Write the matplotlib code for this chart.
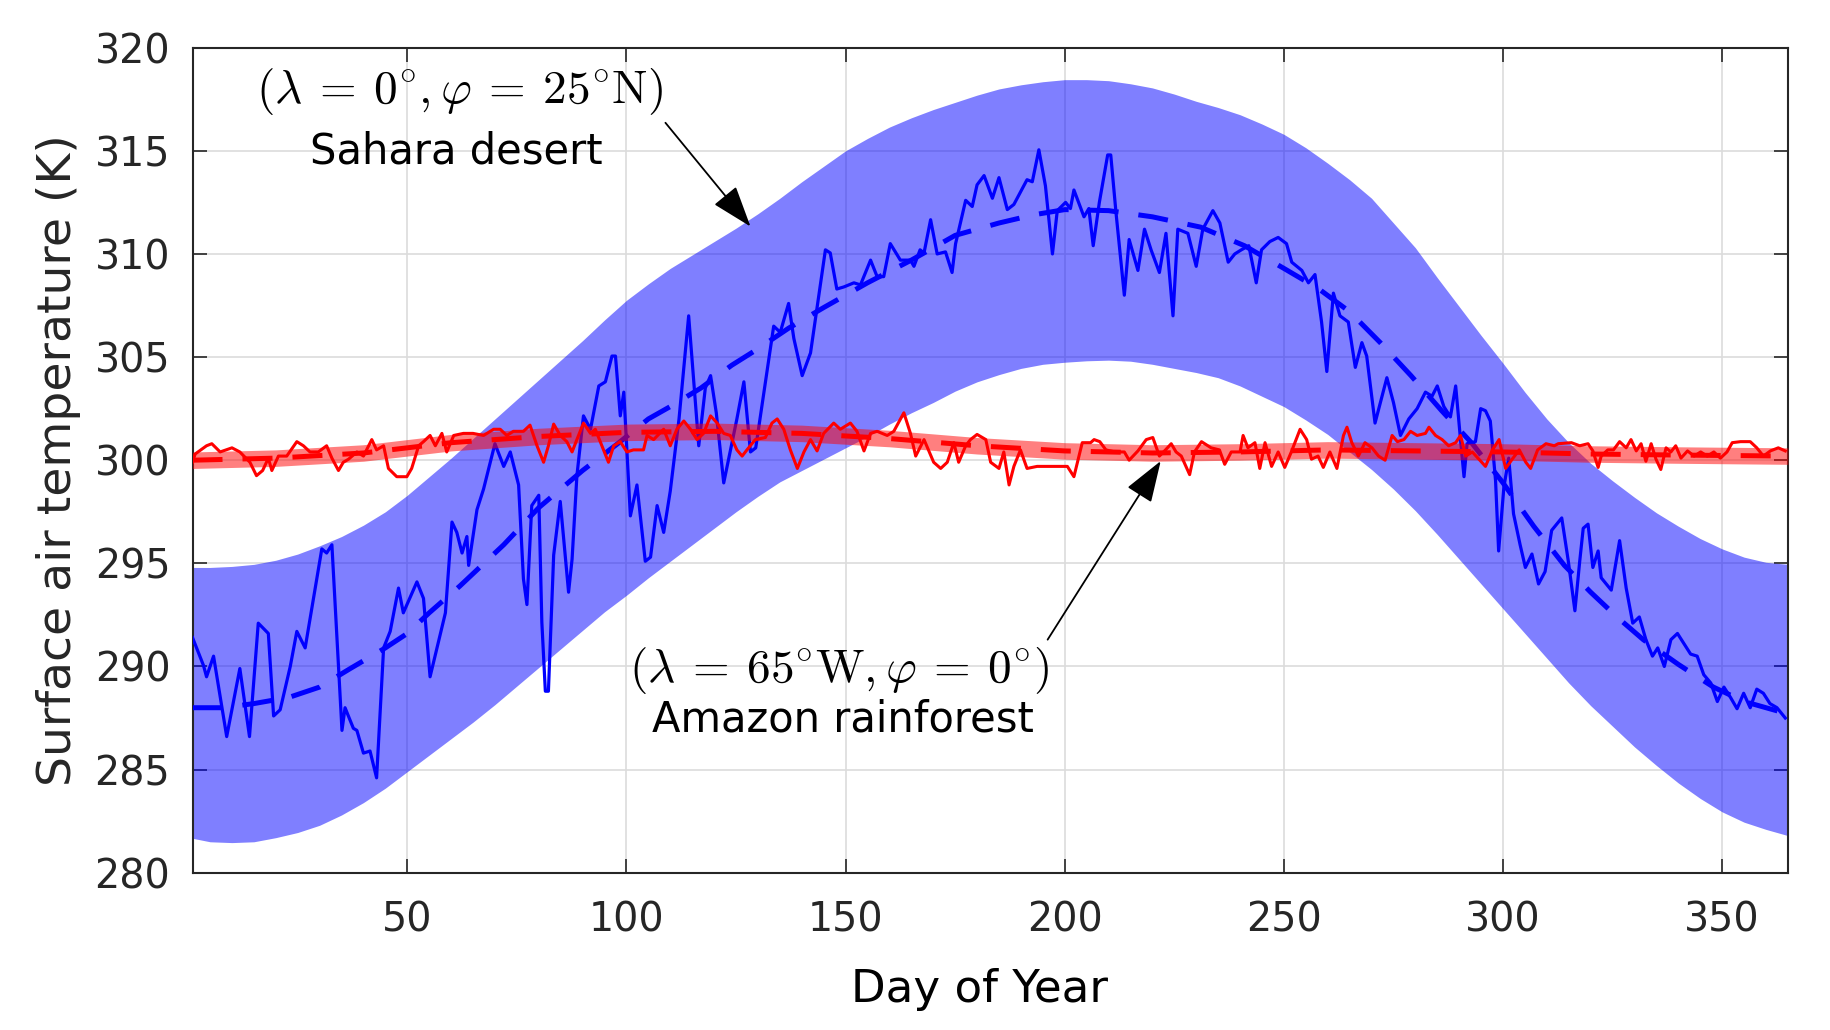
import matplotlib
matplotlib.use("Agg")
import matplotlib.pyplot as plt

# Sahara desert band (min / max envelope), read every 5 days
band_day = [1, 5, 10, 15, 20, 25, 30, 35, 40, 45, 50, 55, 60, 65, 70, 75, 80, 85, 90, 95, 100,
            105, 110, 115, 120, 125, 130, 135, 140, 145, 150, 155, 160, 165, 170, 175, 180, 185,
            190, 195, 200, 205, 210, 215, 220, 225, 230, 235, 240, 245, 250, 255, 260, 265, 270,
            275, 280, 285, 290, 295, 300, 305, 310, 315, 320, 325, 330, 335, 340, 345, 350, 355,
            360, 365]
sahara_upper = [294.8, 294.8, 294.85, 294.95, 295.15, 295.45, 295.85, 296.3, 296.85, 297.5, 298.3,
                299.2, 300.1, 301.05, 302.0, 302.95, 303.9, 304.85, 305.8, 306.8, 307.75, 308.55,
                309.3, 309.95, 310.6, 311.25, 311.95, 312.7, 313.5, 314.25, 315.0, 315.6, 316.15,
                316.6, 317.0, 317.35, 317.7, 318.0, 318.2, 318.35, 318.45, 318.45, 318.4, 318.25,
                318.05, 317.75, 317.4, 317.1, 316.75, 316.3, 315.8, 315.15, 314.4, 313.6, 312.7,
                311.5, 310.3, 308.85, 307.45, 306.05, 304.7, 303.3, 302.0, 300.85, 299.85, 299.0,
                298.2, 297.45, 296.8, 296.2, 295.7, 295.3, 295.05, 294.95]
sahara_lower = [281.67, 281.5, 281.46, 281.5, 281.7, 281.95, 282.3, 282.8, 283.4, 284.1, 284.9,
                285.7, 286.5, 287.3, 288.15, 289.05, 289.95, 290.85, 291.75, 292.65, 293.45, 294.3,
                295.1, 295.9, 296.7, 297.5, 298.25, 298.95, 299.5, 300.05, 300.6, 301.15, 301.75,
                302.3, 302.8, 303.35, 303.8, 304.15, 304.45, 304.65, 304.75, 304.82, 304.85, 304.8,
                304.65, 304.45, 304.25, 304.0, 303.6, 303.1, 302.6, 301.95, 301.25, 300.4, 299.55,
                298.6, 297.55, 296.4, 295.2, 294.0, 292.8, 291.6, 290.4, 289.2, 288.1, 287.1,
                286.1, 285.2, 284.35, 283.6, 282.95, 282.45, 282.1, 281.8]

# Sahara fitted mean (dashed)
sahara_fit_day = [1, 8, 15, 23, 30, 37, 45, 50, 55, 62, 66, 72, 80, 90, 98, 105, 110, 117, 124, 130,
                  137, 145, 155, 165, 175, 185, 193, 200, 210, 220, 231, 241, 250, 258, 265, 272, 279,
                  286, 293, 300, 307, 314, 320, 326, 332, 340, 348, 355, 365]
sahara_fit = [288.0, 288.0, 288.2, 288.5, 289.0, 289.9, 290.9, 291.6, 292.6, 293.9, 294.7, 295.9,
              297.7, 299.5, 300.8, 302.0, 302.6, 303.5, 304.6, 305.4, 306.4, 307.4, 308.6, 309.7,
              310.9, 311.5, 311.9, 312.15, 312.1, 311.8, 311.3, 310.4, 309.3, 308.3, 307.2, 305.7,
              304.1, 302.4, 300.8, 298.9, 296.8, 294.9, 293.6, 292.4, 291.3, 290.1, 289.0, 288.3, 287.7]

# Sahara daily observations
sahara_obs_day = [1, 3.5, 4.2, 5.8, 8.8, 11.8, 14, 16, 18.3, 19.5, 21, 23.3, 24.8, 26.7, 30.5, 31.6,
                  32.8, 35.1, 35.8, 37.7, 38.5, 40, 41.5, 43, 44.6, 46.1, 48, 49.1, 52.2, 53.7, 55.2,
                  58.7, 60.2, 61.3, 62.5, 63.6, 64, 65.9, 67.4, 70, 72, 73.5, 75.4, 76.5, 77.3, 78.4,
                  80, 80.7, 81.5, 82.2, 83.4, 84.9, 86.8, 87.6, 88.7, 90.2, 91.8, 93.7, 95.2, 96.7,
                  97.5, 98.6, 99.4, 100.9, 102.4, 104.3, 105.5, 107, 108.5, 110, 112, 114.2, 116.5,
                  118, 119.2, 120.5, 122.2, 125.2, 126.8, 128.3, 129.5, 133.6, 135.1, 137, 138.2,
                  140.1, 142, 145.4, 146.5, 148, 149.6, 151.9, 153.4, 155.7, 157.2, 158.7, 160.2,
                  162.5, 164.8, 165.6, 167, 167.9, 169.4, 170.9, 172.8, 174.3, 175.1, 177.4, 178.9,
                  180, 181.6, 183.5, 185, 186.9, 188.4, 191.4, 192.6, 194.1, 195.6, 197.2, 198.3,
                  200.2, 201.3, 202.1, 204.4, 205.5, 206.5, 207.9, 209.8, 210.5, 211.7, 213.6, 214.7,
                  216.7, 218.2, 219.7, 221.6, 223.1, 224.7, 225.8, 228.1, 230, 231.5, 233.8, 235.4,
                  237.3, 238.8, 240.3, 242, 243.7, 244.9, 246.8, 248.7, 250.6, 251.8, 254.1, 255.6,
                  257.1, 258.6, 259.8, 261.3, 262.8, 264.7, 266.3, 267.8, 268.9, 270.8, 272.4, 273.5,
                  275, 276.6, 278.5, 280.4, 282.3, 283.8, 285, 286.5, 288, 289.2, 290.3, 291.1, 291.8,
                  293.7, 294.9, 296, 297.1, 298.3, 299, 300.2, 301.3, 302.4, 303.9, 305.1, 306.6,
                  308.1, 309.6, 311.1, 313.4, 314.9, 316.4, 317.5, 318.3, 319.4, 320.5, 321.7, 322.4,
                  324.7, 326.6, 328.1, 329.6, 331.1, 332.6, 334.1, 335.3, 336.8, 338.3, 339.8, 341.3,
                  342.8, 344.3, 345.8, 347.4, 348.9, 350.4, 351.9, 353.4, 354.9, 356.4, 357.9, 359.4,
                  360.9, 362.5, 364.4]
sahara_obs = [291.4, 290.05, 289.5, 290.5, 286.6, 289.9, 286.6, 292.1, 291.6, 287.6, 287.9, 290.0,
              291.7, 290.9, 295.7, 295.5, 295.9, 286.9, 288.0, 287.0, 286.9, 285.8, 285.9, 284.6,
              290.9, 291.7, 293.8, 292.6, 294.1, 293.3, 289.5, 292.6, 297.0, 296.5, 295.5, 296.3,
              294.9, 297.6, 298.6, 300.8, 299.7, 300.4, 298.8, 294.25, 293.0, 297.8, 298.3, 292.15,
              288.8, 288.8, 295.4, 298.0, 293.6, 295.2, 299.25, 302.15, 301.5, 303.6, 303.8, 305.05,
              305.05, 302.15, 303.3, 297.3, 298.8, 295.1, 295.3, 297.8, 296.5, 298.5, 302.0, 307.0,
              300.7, 303.5, 304.1, 302.3, 298.9, 302.0, 303.8, 300.4, 300.6, 306.5, 306.2, 307.6,
              305.9, 304.1, 305.2, 310.2, 310.05, 308.3, 308.4, 308.6, 308.5, 309.7, 308.9, 308.9,
              310.5, 309.7, 309.7, 309.4, 310.2, 310.05, 311.66, 310.0, 310.1, 309.1, 310.5, 312.6,
              312.3, 313.35, 313.8, 312.7, 313.7, 312.15, 312.4, 313.6, 313.5, 315.05, 313.3, 310.0,
              312.1, 312.5, 312.2, 313.1, 311.8, 312.2, 310.4, 312.5, 314.8, 314.8, 312.0, 308.0,
              310.7, 309.2, 311.2, 310.2, 309.1, 311.0, 307.0, 311.2, 311.0, 309.4, 311.2, 312.1,
              311.5, 309.6, 310.0, 310.2, 310.4, 308.6, 310.2, 310.6, 310.8, 310.5, 309.6, 309.2,
              308.6, 309.0, 306.7, 304.3, 308.1, 307.0, 306.7, 304.5, 305.7, 305.05, 301.8, 303.1,
              304.0, 302.8, 301.2, 302.0, 302.5, 303.3, 303.1, 303.6, 302.6, 302.1, 303.6, 301.0,
              299.2, 300.8, 300.9, 302.5, 302.4, 301.9, 299.0, 295.6, 298.7, 300.1, 297.4, 295.9,
              294.8, 295.45, 294.0, 294.6, 296.6, 297.2, 295.1, 292.7, 295.1, 296.7, 296.9, 294.8,
              295.6, 294.3, 293.7, 296.1, 293.8, 292.1, 292.4, 291.3, 290.5, 290.9, 290.0, 291.3,
              291.6, 291.1, 290.6, 290.5, 289.6, 289.2, 288.3, 289.0, 288.5, 287.95, 288.7, 288.0,
              288.9, 288.7, 288.2, 288.0, 287.5]

# Amazon band and fitted mean
amazon_day = [1, 20, 40, 60, 80, 100, 120, 140, 160, 180, 200, 220, 240, 260, 280, 300, 320, 340, 365]
amazon_fit = [300.0, 300.1, 300.35, 300.85, 301.15, 301.35, 301.4, 301.3, 301.05, 300.7, 300.45,
              300.35, 300.4, 300.5, 300.45, 300.4, 300.3, 300.25, 300.2]
amazon_upper = [300.4, 300.5, 300.75, 301.25, 301.55, 301.75, 301.8, 301.7, 301.45, 301.1, 300.85,
                300.75, 300.8, 300.9, 300.85, 300.8, 300.7, 300.65, 300.6]
amazon_lower = [299.6, 299.7, 299.95, 300.45, 300.75, 300.95, 301.0, 300.9, 300.65, 300.3, 300.05,
                299.95, 300.0, 300.1, 300.05, 300.0, 299.9, 299.85, 299.8]

# Amazon daily observations
amazon_obs_day = [1, 1.6, 4.2, 5.4, 7.3, 10, 11.8, 14.1, 15.6, 17, 18.3, 19.1, 20.6, 22.5, 24.8, 26.3,
                  27.8, 29.7, 31.6, 32.8, 34.3, 35.4, 36.6, 38.5, 40, 41.9, 43, 44.6, 45.7, 47.6,
                  49.9, 51, 52.6, 53.7, 55.2, 56.4, 57.9, 59, 60.6, 62.8, 65, 67.4, 69.7, 71.2, 72.7,
                  74.2, 76.5, 78, 79.6, 81.1, 82.2, 83.4, 84.9, 86.4, 87.6, 88.7, 90.2, 91.8, 92.9,
                  94.4, 95.9, 97.1, 98.6, 100.1, 101.6, 103.9, 104.7, 106.2, 108.5, 110, 111.5, 113.1,
                  114.6, 116.1, 117.6, 119.2, 120.7, 122.2, 123.7, 125.2, 126.4, 127.5, 129.4, 131.7,
                  133.2, 134.4, 135.9, 137.4, 139, 140.5, 142, 143.5, 145, 147.3, 148.8, 151.1, 152.6,
                  154.2, 155.7, 157.2, 159.5, 161, 163.3, 164.8, 166, 167.9, 170.1, 171.7, 173.2,
                  174.7, 175.8, 177.4, 178.5, 180, 182, 183.1, 185, 186.1, 187.3, 188.4, 189.9, 191.4,
                  193.7, 196, 198.3, 200.6, 202.1, 204, 205.9, 206.7, 208, 209.4, 211.5, 213.6, 214.7,
                  216.7, 218.6, 220.1, 221.6, 223, 224.3, 225.4, 226.6, 228.5, 229.6, 231.2, 233.4,
                  235.3, 236.5, 238, 240, 240.7, 241.8, 243.4, 244.5, 245.7, 247.2, 248.7, 250.2,
                  251.7, 253.7, 255.2, 256.3, 257.8, 259, 260.5, 262.1, 263.6, 264.4, 265.5, 267,
                  268.5, 270.1, 271.6, 273.1, 274.7, 275.9, 277.4, 278.9, 280.4, 282.3, 283.1, 284.6,
                  286.1, 287.6, 289.2, 290.3, 291.5, 293, 294.5, 296, 297.6, 299.1, 300.6, 302.1,
                  303.7, 305.2, 306.3, 307.9, 309.8, 311.7, 312.6, 315.6, 317.5, 319.4, 320.5, 321.7,
                  322.4, 323.9, 325.2, 326.6, 328.1, 329.2, 330.4, 331.5, 332.6, 333.8, 334.9, 336,
                  337.2, 338.3, 339.4, 340.6, 342.1, 343.6, 345.1, 346.6, 348.1, 349.6, 351.1, 352.3,
                  354.2, 356.4, 357.9, 359.4, 361, 362.8, 364.4]
amazon_obs = [299.9, 300.3, 300.7, 300.8, 300.4, 300.6, 300.4, 299.9, 299.25, 299.5, 300.1, 299.5,
              300.2, 300.2, 300.9, 300.7, 300.4, 300.4, 300.7, 300.1, 299.5, 299.9, 300.05, 300.4,
              300.2, 301.0, 300.5, 300.7, 299.6, 299.2, 299.2, 299.6, 300.7, 300.9, 301.2, 300.7,
              301.3, 300.4, 301.2, 301.3, 301.3, 301.2, 301.5, 301.5, 301.2, 301.4, 301.4, 301.7,
              300.7, 299.9, 300.7, 301.75, 301.2, 300.9, 300.4, 301.0, 301.8, 301.3, 301.5, 300.7,
              299.9, 300.7, 300.9, 300.4, 300.5, 300.5, 301.2, 301.0, 301.5, 300.7, 301.5, 301.9,
              301.5, 301.0, 301.3, 302.15, 301.8, 301.3, 301.2, 300.5, 300.2, 300.5, 301.0, 301.1,
              301.8, 302.0, 301.5, 300.5, 299.6, 300.4, 301.0, 300.45, 301.3, 301.8, 301.5, 301.8,
              301.4, 300.45, 301.3, 301.4, 301.2, 301.4, 302.3, 301.3, 300.2, 301.0, 299.9, 299.6,
              299.9, 300.85, 299.9, 300.7, 301.0, 301.25, 301.0, 299.9, 299.6, 300.4, 298.8, 299.7,
              300.5, 299.6, 299.7, 299.7, 299.7, 299.7, 299.2, 300.85, 300.85, 301.0, 300.9, 300.5,
              300.4, 300.4, 300.0, 300.45, 301.0, 301.1, 300.2, 300.5, 300.8, 300.4, 300.2, 299.3,
              300.4, 300.9, 300.6, 300.5, 299.8, 300.4, 300.4, 301.2, 300.6, 300.85, 299.6, 300.85,
              299.7, 300.4, 299.65, 300.4, 301.5, 301.0, 300.05, 300.2, 299.65, 300.4, 299.6, 301.2,
              301.6, 300.85, 300.2, 300.85, 300.6, 300.2, 300.0, 301.2, 300.9, 301.0, 301.4, 301.2,
              301.3, 301.6, 301.2, 301.0, 300.7, 300.85, 301.2, 300.2, 300.4, 300.05, 299.7, 300.5,
              301.0, 299.6, 300.05, 300.5, 299.9, 299.6, 300.5, 300.8, 300.7, 300.8, 300.85, 300.7,
              300.8, 300.45, 299.65, 300.2, 300.5, 300.5, 300.9, 300.6, 301.0, 300.45, 300.8, 299.95,
              300.8, 300.05, 299.55, 300.6, 300.4, 300.7, 300.1, 300.45, 300.2, 300.4, 300.2, 300.4,
              300.1, 300.4, 300.85, 300.9, 300.9, 300.6, 300.2, 300.45, 300.6, 300.45]

x_ticks = [50, 100, 150, 200, 250, 300, 350]
y_ticks = [280, 285, 290, 295, 300, 305, 310, 315, 320]

plt.rcParams['font.family'] = 'DejaVu Sans'
plt.rcParams['mathtext.fontset'] = 'cm'

fig = plt.figure(figsize=(18.3, 10.3), dpi=100)
ax = fig.add_axes([0.1052, 0.1527, 0.8718, 0.801])

ax.fill_between(band_day, sahara_lower, sahara_upper, color=(0, 0, 1), alpha=0.5, lw=0, zorder=2)
ax.plot(sahara_obs_day, sahara_obs, color=(0, 0, 1), lw=2.3, zorder=3)
ax.plot(sahara_fit_day, sahara_fit, color=(0, 0, 1), lw=3.6, dashes=(6, 4), zorder=4)

ax.fill_between(amazon_day, amazon_lower, amazon_upper, color=(1, 0, 0), alpha=0.5, lw=0, zorder=5)
ax.plot(amazon_obs_day, amazon_obs, color=(1, 0, 0), lw=2.2, zorder=6)
ax.plot(amazon_day, amazon_fit, color=(1, 0, 0), lw=3.6, dashes=(6, 4), zorder=7)

ax.set_xlim(1, 365)
ax.set_ylim(280, 320)
ax.set_xticks(x_ticks)
ax.set_yticks(y_ticks)
ax.grid(True, color='#dcdcdc', lw=1.2, zorder=0)
ax.set_axisbelow(True)
ax.tick_params(direction='in', length=10, width=1.2, top=True, right=True,
               labelsize=28.5, colors='#262626')
ax.tick_params(axis='x', pad=20)
ax.tick_params(axis='y', pad=16)
for side in ['left', 'right', 'top', 'bottom']:
    ax.spines[side].set_color('#262626')
    ax.spines[side].set_linewidth(1.5)

ax.set_xlabel("Day of Year", fontsize=32.5, color='black', labelpad=20)
ax.xaxis.label.set_x(0.493)
ax.set_ylabel("Surface air temperature (K)", fontsize=34, color='#262626', labelpad=10)

# annotations
arrow = dict(arrowstyle='-|>,head_length=1.3,head_width=0.45', color='black', lw=1.3,
             mutation_scale=20, shrinkA=0, shrinkB=0)
ax.text(62, 317.9, r'$(\lambda\:=\:0^{\circ},\varphi\:=\:25^{\circ}\mathrm{N})$', fontsize=34,
        ha='center', va='center', zorder=10)
ax.text(61.3, 314.37, "Sahara desert", fontsize=30, ha='center', va='baseline', zorder=10)
ax.annotate('', xy=(128.3, 311.33), xytext=(108.9, 316.36), arrowprops=arrow, zorder=10)

ax.text(148.5, 289.8, r'$(\lambda\:=\:65^{\circ}\mathrm{W},\varphi\:=\:0^{\circ})$', fontsize=34,
        ha='center', va='center', zorder=10)
ax.text(149.3, 286.85, "Amazon rainforest", fontsize=30, ha='center', va='baseline', zorder=10)
ax.annotate('', xy=(221.9, 299.96), xytext=(196.1, 291.3), arrowprops=arrow, zorder=10)

plt.savefig("out.png", dpi=100)
